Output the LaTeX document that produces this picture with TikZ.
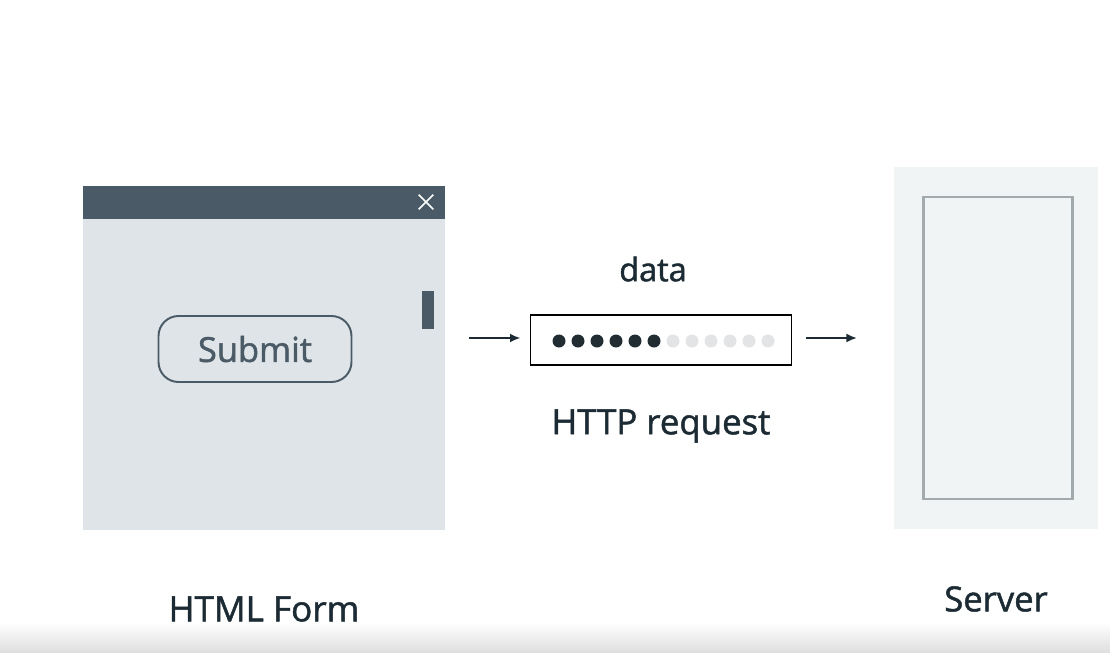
\documentclass[tikz,border=0pt]{standalone}
\usepackage{fontspec}
\setmainfont{Open Sans}
\newfontfamily\labelfont{Open Sans}[FakeBold=1.4]
\usepackage{xcolor}
\usetikzlibrary{arrows.meta,positioning,calc}

\definecolor{slate}{HTML}{4A5A66}
\definecolor{formbg}{HTML}{DEE4E7}
\definecolor{ink}{HTML}{1C2B33}
\definecolor{dotdark}{HTML}{222D33}
\definecolor{dotlight}{HTML}{E2E4E5}
\definecolor{serverbg}{HTML}{F1F4F5}
\definecolor{serverline}{HTML}{A3AAAD}

\begin{document}
\begin{tikzpicture}[
    x=0.02cm, y=-0.02cm,
    label/.style={text=ink, inner sep=0pt},
    arrow/.style={-{Latex[length=6pt,width=5pt]}, line width=1.1pt, ink},
    dot/.style={circle, inner sep=0pt, minimum size=0.26cm}
]
\useasboundingbox (0,0) rectangle (1110,653);
\fill[white] (0,0) rectangle (1110,653);
\shade[top color=white, bottom color=black!13] (0,622) rectangle (1110,653);

% html form window
\node[rectangle, fill=formbg, minimum width=7.24cm, minimum height=6.88cm, inner sep=0pt] (form) at (264,358) {};
\node[rectangle, fill=slate, minimum width=7.24cm, minimum height=0.66cm, inner sep=0pt, anchor=north] (titlebar) at (form.north) {};
\node[inner sep=0pt, minimum size=0.28cm] (close) at (426,202) {};
\draw[white, line width=0.9pt] (close.north west) -- (close.south east)
    (close.north east) -- (close.south west);
\node[rectangle, fill=slate, minimum width=0.24cm, minimum height=0.76cm, inner sep=0pt] (scroll) at (428,310) {};
\node[rectangle, rounded corners=0.4cm, draw=slate, line width=1.1pt, minimum width=3.86cm, minimum height=1.32cm, text=slate, font=\labelfont\fontsize{19.6}{24}\selectfont] (submit) at (255,349) {Submit};
\node[label, font=\labelfont\fontsize{20}{24}\selectfont] (formlabel) at (264,609) {HTML Form};

% http request
\node[rectangle, draw=black, line width=1.1pt, minimum width=5.22cm, minimum height=1.0cm, inner sep=0pt] (req) at (661,340) {};
\foreach \i in {0,...,5}
  \node[dot, fill=dotdark] (d\i) at (559+19*\i,341) {};
\foreach \i in {6,...,11}
  \node[dot, fill=dotlight] (d\i) at (559+19*\i,341) {};
\node[label, font=\labelfont\fontsize{18.5}{22}\selectfont] (data) at (653,269) {data};
\node[label, font=\labelfont\fontsize{19.8}{24}\selectfont] (reqlabel) at (661,426) {HTTP request};

% server
\node[rectangle, fill=serverbg, minimum width=4.1cm, minimum height=7.26cm, inner sep=0pt] (server) at (996,348) {};
\node[rectangle, draw=serverline, line width=1.4pt, minimum width=2.98cm, minimum height=6.04cm, inner sep=0pt] (rack) at (998,348) {};
\node[label, font=\labelfont\fontsize{19.7}{24}\selectfont] (serverlabel) at (996,599) {Server};

% arrows
\coordinate (inA) at (469,338);
\coordinate (outA) at (857,338);
\draw[arrow, shorten >=0.18cm] (inA) -- (inA -| req.west);
\draw[arrow, shorten <=0.28cm] (req.east |- outA) -- (outA);
\end{tikzpicture}
\end{document}
